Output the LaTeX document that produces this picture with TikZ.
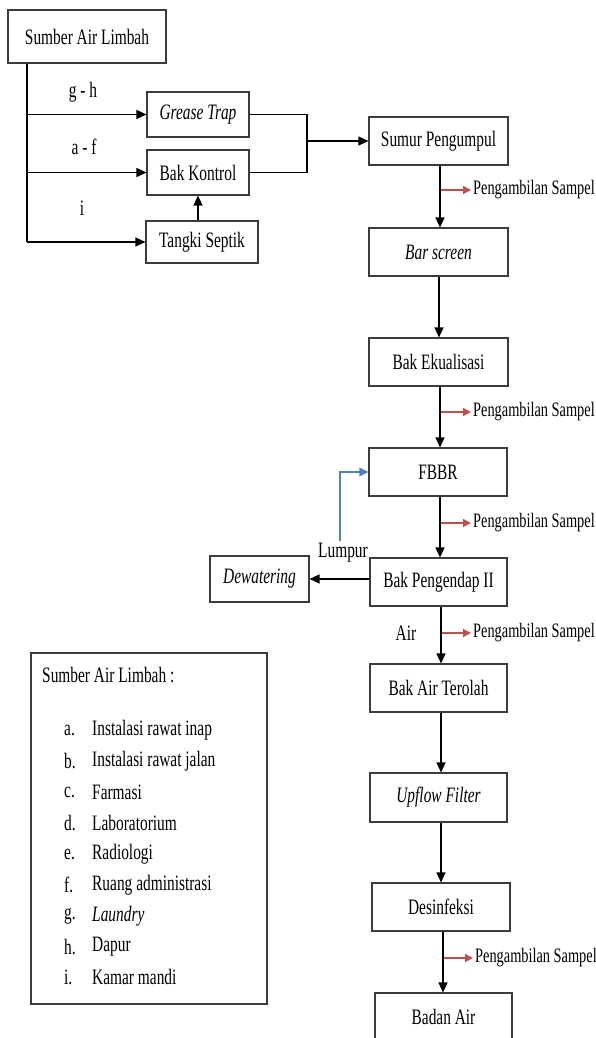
\documentclass[tikz,border=0pt]{standalone}
\usepackage{fontspec}
\setmainfont{Liberation Serif}[FakeStretch=0.7]
\usetikzlibrary{arrows.meta}
\definecolor{sred}{RGB}{192,80,77}
\definecolor{sblue}{RGB}{79,129,189}
\definecolor{bord}{RGB}{60,60,60}
\begin{document}
\begin{tikzpicture}[x=1pt,y=-1pt,
  box/.style={draw=bord, line width=1.1pt, inner sep=0pt, font=\fontsize{22}{26}\selectfont},
  arr/.style={line width=1.3pt, -{Triangle[length=10pt,width=9pt]}},
  plain/.style={line width=1.3pt},
  redarr/.style={draw=sred, line width=1.5pt, -{Triangle[length=8pt,width=8pt]}},
  bluearr/.style={draw=sblue, line width=1.3pt, -{Triangle[length=9pt,width=8.5pt]}},
  samp/.style={anchor=west, inner sep=2pt, font=\fontsize{20.5}{24}\selectfont},
  lbl/.style={inner sep=0pt, font=\fontsize{22}{26}\selectfont},
  leg/.style={anchor=west, inner sep=0pt, font=\fontsize{22}{26}\selectfont}
]
\useasboundingbox (0,0) rectangle (596,1038);

% left group
\node[box, minimum width=158pt, minimum height=53pt] (src) at (87,36.5) {Sumber Air Limbah};
\node[box, minimum width=102pt, minimum height=45pt] (gt) at (198,114.5) {\itshape Grease Trap};
\node[box, minimum width=102pt, minimum height=45pt] (bk) at (198,172.5) {Bak Kontrol};
\node[box, minimum width=112pt, minimum height=42pt] (ts) at (202,242) {Tangki Septik};

\coordinate (tr) at (27,0);
\draw[plain] (src.south -| tr) -- (ts.west -| tr);
\draw[arr] (gt.west -| tr) -- (gt.west);
\draw[arr] (bk.west -| tr) -- (bk.west);
\draw[arr] (ts.west -| tr) -- (ts.west);
\draw[arr] (bk.south |- ts.north) -- (bk.south);

\node[lbl] (lgh) at (83,92) {g - h};
\node[lbl] (laf) at (84,147) {a - f};
\node[lbl] (li) at (82,208) {i};

% main column
\node[box, minimum width=139pt, minimum height=48pt] (sp) at (438.5,141) {Sumur Pengumpul};
\node[box, minimum width=139pt, minimum height=48pt] (bs) at (438.5,252) {\itshape Bar screen};
\node[box, minimum width=139pt, minimum height=48pt] (be) at (438.5,362) {Bak Ekualisasi};
\node[box, minimum width=138pt, minimum height=48pt] (fb) at (438,472) {FBBR};
\node[box, minimum width=137pt, minimum height=48pt] (pe) at (438.5,582) {Bak Pengendap II};
\node[box, minimum width=137pt, minimum height=48pt] (at) at (438.5,688) {Bak Air Terolah};
\node[box, minimum width=137pt, minimum height=49pt] (uf) at (438.5,797.5) {\itshape Upflow Filter};
\node[box, minimum width=138pt, minimum height=48pt] (ds) at (441,907) {Desinfeksi};
\node[box, minimum width=137pt, minimum height=48pt] (ba) at (443.5,1017) {Badan Air};
\node[box, minimum width=99pt, minimum height=46pt] (dw) at (259.5,579) {\itshape Dewatering};

% join from grease trap / bak kontrol
\coordinate (j) at (307,0);
\draw[plain] (gt.east) -| (bk.east -| j) -- (bk.east);
\draw[arr] (sp.west -| j) -- (sp.west);

\draw[arr] (sp.south -| 440,0) -- (bs.north -| 440,0);
\draw[arr] (bs.south -| 439,0) -- (be.north -| 439,0);
\draw[arr] (be.south -| 440,0) -- (fb.north -| 440,0);
\draw[arr] (fb.south -| 440,0) -- (pe.north -| 440,0);
\draw[arr] (pe.south -| 441,0) -- (at.north -| 441,0);
\draw[arr] (at.south -| 441,0) -- (uf.north -| 441,0);
\draw[arr] (uf.south -| 441,0) -- (ds.north -| 441,0);
\draw[arr] (ds.south -| 443,0) -- (ba.north -| 443,0);
\draw[arr] (pe.west |- dw.east) -- (dw.east);

% sampling points
\node[samp] (s1) at (471,190) {Pengambilan Sampel};
\node[samp] (s2) at (471,412) {Pengambilan Sampel};
\node[samp] (s3) at (471,523) {Pengambilan Sampel};
\node[samp] (s4) at (471,633) {Pengambilan Sampel};
\node[samp] (s5) at (473,958) {Pengambilan Sampel};
\draw[redarr] (s1.west -| 441,0) -- (s1.west);
\draw[redarr] (s2.west -| 441,0) -- (s2.west);
\draw[redarr] (s3.west -| 441,0) -- (s3.west);
\draw[redarr] (s4.west -| 442,0) -- (s4.west);
\draw[redarr] (s5.west -| 444,0) -- (s5.west);

\node[lbl] (lum) at (343,553) {Lumpur};
\node[lbl] (air) at (406,633) {Air};
\coordinate (bl) at (340,541);
\draw[bluearr] (bl) |- (fb.west);

% legend
\node[draw=bord, line width=1.1pt, minimum width=236pt, minimum height=351pt, inner sep=0pt] (lg) at (149,828.5) {};
\node[leg] (lt) at (42,675) {Sumber Air Limbah :};
\foreach \l/\t/\y [count=\i] in {a./Instalasi rawat inap/730, b./Instalasi rawat jalan/761, c./Farmasi/792, d./Laboratorium/823, e./Radiologi/854, f./Ruang administrasi/885, g./\textit{Laundry}/916, h./Dapur/947, i./Kamar mandi/977}{
  \node[leg] (ll\i) at (64,\y) {\l};
  \node[leg] (lx\i) at (92,\y) {\t};
}
\end{tikzpicture}
\end{document}
